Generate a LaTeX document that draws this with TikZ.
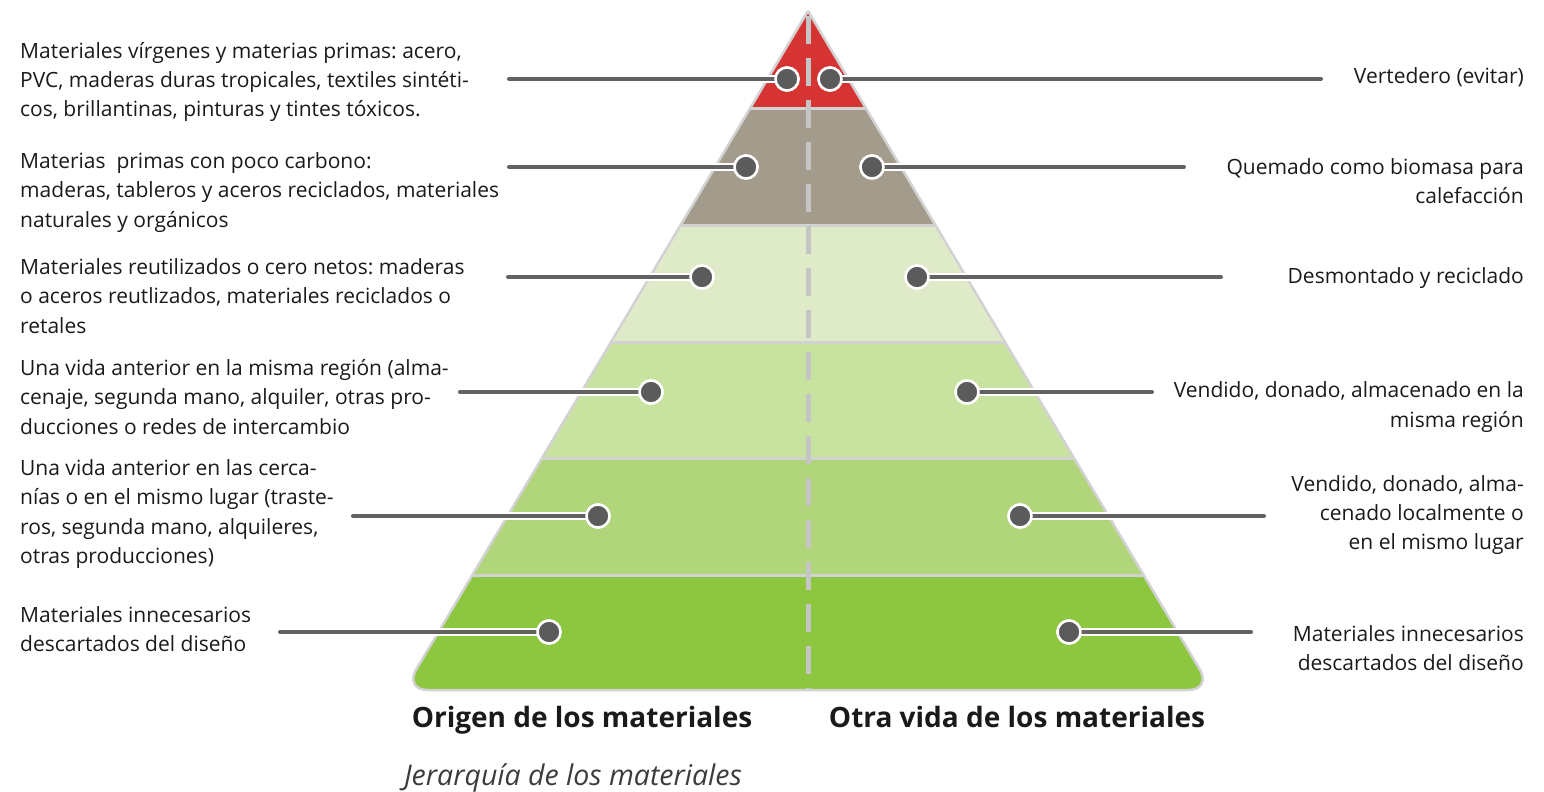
\documentclass[tikz,border=0pt]{standalone}
\usepackage{fontspec}
\setmainfont{Open Sans}
\definecolor{cred}{HTML}{D63333}
\definecolor{ctaupe}{HTML}{A39B8B}
\definecolor{cgA}{HTML}{DFEBC8}
\definecolor{cgB}{HTML}{C8E2A0}
\definecolor{cgC}{HTML}{B0D57B}
\definecolor{cgD}{HTML}{8DC63F}
\definecolor{csep}{HTML}{D2D2D2}
\definecolor{cdash}{HTML}{C5C5C5}
\definecolor{cdot}{HTML}{5B5B5B}
\definecolor{cline}{HTML}{626262}
\definecolor{ctext}{HTML}{1A1A1A}
\tikzset{
  dotnode/.style={circle, fill=cdot, draw=white, line width=2.5pt, minimum size=23pt, inner sep=0pt},
  leftlab/.style={anchor=west, align=left, font=\fontsize{21}{29.3}\selectfont\frenchspacing, text=ctext, inner sep=0pt},
  rightlab/.style={anchor=east, align=right, font=\fontsize{21}{29.3}\selectfont\frenchspacing, text=ctext, inner sep=0pt},
  halo/.style={white, line width=7.5pt, line cap=round},
  conn/.style={cline, line width=4pt, line cap=round},
  boldlab/.style={font=\fontsize{28}{32}\selectfont\bfseries, text=ctext, inner sep=0pt, anchor=base},
}
\begin{document}
\begin{tikzpicture}[x=1pt,y=-1pt]
\useasboundingbox (0,0) rectangle (1544,792);
% pyramid bands
\begin{scope}
  \clip[rounded corners=24pt] (808,11) -- (1212,690) -- (404,690) -- (808,11);
  \fill[cred]   (380,0)   rectangle (1240,108);
  \fill[ctaupe] (380,108) rectangle (1240,225);
  \fill[cgA]    (380,225) rectangle (1240,342);
  \fill[cgB]    (380,342) rectangle (1240,458);
  \fill[cgC]    (380,458) rectangle (1240,575);
  \fill[cgD]    (380,575) rectangle (1240,700);
  \foreach \yy in {108,225,342,458,575}
    \draw[csep, line width=3pt] (380,\yy) -- (1240,\yy);
  \draw[cdash, line width=5pt, dash pattern=on 28pt off 14pt] (808,16) -- (808,692);
\end{scope}
\draw[csep, line width=2.5pt, rounded corners=24pt, line join=round] (808,11) -- (1212,690) -- (404,690) -- (808,11);

% dots
\node[dotnode] (l1) at (787,79) {};
\node[dotnode] (r1) at (830,79) {};
\node[dotnode] (l2) at (746,167) {};
\node[dotnode] (r2) at (872,167) {};
\node[dotnode] (l3) at (702,277) {};
\node[dotnode] (r3) at (917,277) {};
\node[dotnode] (l4) at (651,392) {};
\node[dotnode] (r4) at (967,392) {};
\node[dotnode] (l5) at (598,516) {};
\node[dotnode] (r5) at (1020,516) {};
\node[dotnode] (l6) at (549,632) {};
\node[dotnode] (r6) at (1069,632) {};

% free ends of connectors
\coordinate (el1) at (509,79);
\coordinate (er1) at (1321,79);
\coordinate (el2) at (509,167);
\coordinate (er2) at (1184,167);
\coordinate (el3) at (508,277);
\coordinate (er3) at (1221,277);
\coordinate (el4) at (460,392);
\coordinate (er4) at (1152,392);
\coordinate (el5) at (353,516);
\coordinate (er5) at (1264,516);
\coordinate (el6) at (280,632);
\coordinate (er6) at (1251,632);

\foreach \i in {1,...,6} {
  \draw[halo] (el\i) -- (l\i.center);
  \draw[halo] (r\i.center) -- (er\i);
}
\foreach \i in {1,...,6} {
  \draw[conn] (el\i) -- (l\i.center);
  \draw[conn] (r\i.center) -- (er\i);
}
% dots on top of the connectors
\foreach \i in {1,...,6} {
  \node[dotnode] at (l\i) {};
  \node[dotnode] at (r\i) {};
}

% left labels
\node[leftlab] (tl1) at (20,82) {Materiales vírgenes y materias primas: acero,\\PVC, maderas duras tropicales, textiles sintéti-\\cos, brillantinas, pinturas y tintes tóxicos.};
\node[leftlab] (tl2) at (20,192.5) {Materias\ \ primas con poco carbono:\\maderas, tableros y aceros reciclados, materiales\\naturales y orgánicos};
\node[leftlab] (tl3) at (20,296) {Materiales reutilizados o cero netos: maderas\\o aceros reutlizados, materiales reciclados o\\retales};
\node[leftlab] (tl4) at (20,397) {Una vida anterior en la misma región (alma-\\cenaje, segunda mano, alquiler, otras pro-\\ducciones o redes de intercambio};
\node[leftlab] (tl5) at (20,514) {Una vida anterior en las cerca-\\nías o en el mismo lugar (traste-\\ros, segunda mano, alquileres,\\otras producciones)};
\node[leftlab] (tl6) at (20,629) {Materiales innecesarios\\descartados del diseño};

% right labels
\node[rightlab] (tr1) at (1524,77) {Vertedero (evitar)};
\node[rightlab] (tr2) at (1524,181) {Quemado como biomasa para\\calefacción};
\node[rightlab] (tr3) at (1524,278) {Desmontado y reciclado};
\node[rightlab] (tr4) at (1524,407) {Vendido, donado, almacenado en la\\misma región};
\node[rightlab] (tr5) at (1524,515) {Vendido, donado, alma-\\cenado localmente o\\en el mismo lugar};
\node[rightlab] (tr6) at (1524,648) {Materiales innecesarios\\descartados del diseño};

% bottom labels
\node[boldlab] (origen) at (582,727) {Origen de los materiales};
\node[boldlab] (otra) at (1017,727) {Otra vida de los materiales};
\node[font=\fontsize{28.5}{32}\selectfont\itshape, text=ctext!85, inner sep=0pt, anchor=base] (title) at (573,785) {Jerarquía de los materiales};
\end{tikzpicture}
\end{document}
